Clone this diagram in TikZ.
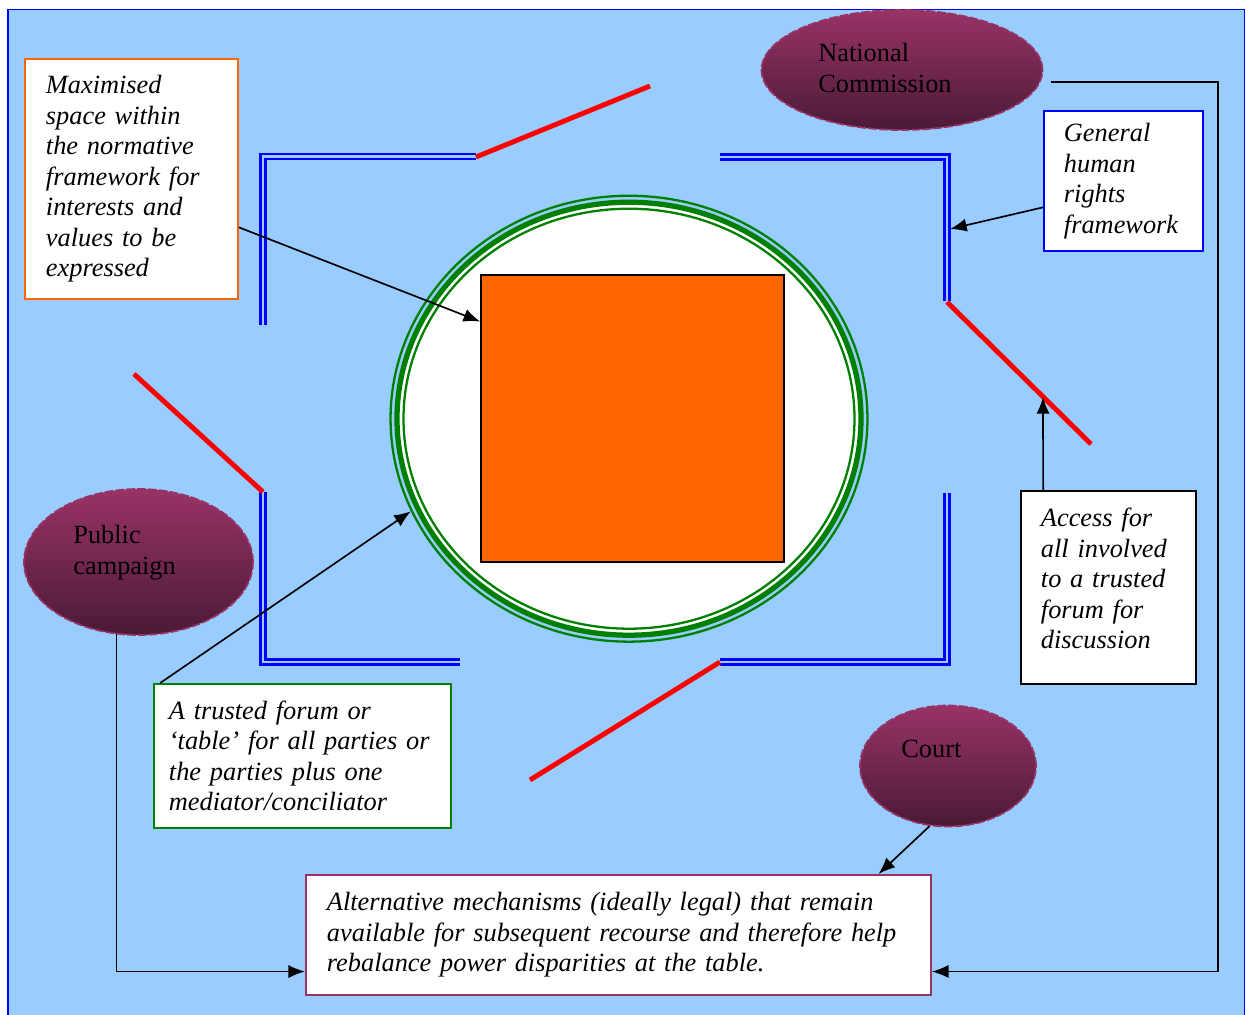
\documentclass[tikz,border=0pt]{standalone}
\usepackage{fontspec}
\setmainfont{Liberation Serif}
\usetikzlibrary{shapes.geometric,arrows.meta,calc}
\definecolor{bgblue}{HTML}{99CCFF}
\definecolor{wallblue}{HTML}{0000FF}
\definecolor{plum}{HTML}{993366}
\definecolor{darkplum}{HTML}{4A1A35}
\definecolor{tablegreen}{HTML}{008000}
\definecolor{spaceorange}{HTML}{FF6600}

\begin{document}
\begin{tikzpicture}[
x=0.02cm, y=-0.02cm,
every node/.style={font=\fontsize{15pt}{17.4pt}\selectfont},
box/.style={rectangle, fill=white, line width=1.1pt, anchor=north west, align=left, inner ysep=0pt, font=\fontsize{15pt}{17.4pt}\selectfont\itshape},
oval/.style={ellipse, draw=plum, dash pattern=on 5pt off 1.2pt, line width=1pt, top color=plum, bottom color=darkplum},
lbl/.style={anchor=north west, inner sep=0pt, align=left},
wall/.style={draw=wallblue, double=bgblue, line width=1.4pt, double distance=1.5pt},
gate/.style={draw=red, line width=2.8pt},
arr/.style={-{Latex[length=9.5pt,width=7.5pt]}, line width=0.95pt}
]

\useasboundingbox (0,0) rectangle (1249,1015);
\fill[bgblue] (8,9.5) rectangle (1244.5,1030);
\draw[wallblue, line width=1.1pt] (8,1030) -- (8,9.5) -- (1244.5,9.5) -- (1244.5,1030);

\draw[wall] (263,325) |- (476,156.5);
\draw[wall] (720,157) -| (947,301);
\draw[wall] (263,492) |- (460,662);
\draw[wall] (720,662) -| (947,493);

\draw[gate] (476,157) -- (650,86);
\draw[gate] (947,302) -- (1091,444);
\draw[gate] (134,374) -- (263,492);
\draw[gate] (720,662) -- (530,780);

\node[ellipse, draw=tablegreen, line width=1.3pt, minimum width=9.54cm, minimum height=8.92cm, inner sep=0pt] (table) at (629,418.7) {};
\draw[tablegreen, line width=3pt, fill=white] (table.center) ellipse [x radius=232, y radius=216.5];
\draw[tablegreen, line width=1.3pt] (table.center) ellipse [x radius=225.5, y radius=210];
\node[rectangle, draw=black, fill=spaceorange, line width=0.9pt, minimum width=6.06cm, minimum height=5.74cm] (space) at (632.5,418.5) {};

\node[oval, minimum width=5.62cm, minimum height=2.4cm] (natcom) at (902,70) {};
\node[lbl] (natlbl) at (818,43) {National\\Commission};
\node[oval, minimum width=4.58cm, minimum height=2.92cm] (campaign) at (138.5,562) {};
\node[lbl] (camplbl) at (73,525) {Public\\campaign};
\node[oval, minimum width=3.52cm, minimum height=2.42cm] (court) at (948,766) {};
\node[anchor=base west, inner sep=0pt] (courtlbl) at (901,757) {Court};

\node[box, draw=spaceorange, minimum width=4.26cm, minimum height=4.8cm, inner xsep=0.42cm, text width=3.42cm] (maxbox) at (24,58)
  {Maximised\\space within\\the normative\\framework for\\interests and\\values to be\\expressed};
\node[box, draw=wallblue, minimum width=3.18cm, minimum height=2.8cm, inner xsep=0.4cm, text width=2.38cm] (genbox) at (1043,110)
  {General\\human\\rights\\framework};
\node[box, draw=black, minimum width=3.5cm, minimum height=3.86cm, inner xsep=0.4cm, text width=2.7cm, text depth=80pt] (accbox) at (1020,490)
  {Access for\\all involved\\to a trusted\\forum for\\discussion};
\node[box, draw=tablegreen, minimum width=5.94cm, minimum height=2.88cm, inner xsep=0.3cm, text width=5.34cm] (forumbox) at (153,683)
  {A trusted forum or\\‘table’ for all parties or\\the parties plus one\\mediator/conciliator};
\node[box, draw=plum, minimum width=12.5cm, minimum height=2.4cm, inner xsep=0.42cm, text width=11.66cm] (altbox) at (305,874)
  {Alternative mechanisms (ideally legal) that remain\\available for subsequent recourse and therefore help\\rebalance power disparities at the table.};

\coordinate (hrwall) at (950,229);
\coordinate (accgate) at (1043,397);
\coordinate (ncturn) at (1218,82);

\draw[arr] ($(maxbox.north east)!0.7!(maxbox.south east)$) -- ($(space.north west)!0.164!(space.south west)$);
\draw[arr] ($(genbox.north west)!0.686!(genbox.south west)$) -- (hrwall);
\draw[arr] ($(accbox.north west)!0.131!(accbox.north east)$) -- (accgate);
\draw[arr] ($(forumbox.north west)!0.024!(forumbox.north east)$) -- (table.203);
\draw[arr] (campaign.253) |- ($(altbox.north west)!0.8!(altbox.south west)$);
\draw[arr] ([shift={(8,12)}]natcom.east) -- (ncturn) |- ($(altbox.north east)!0.8!(altbox.south east)$);
\draw[arr] (court.253) -- ($(altbox.north west)!0.915!(altbox.north east)$);

\end{tikzpicture}
\end{document}
